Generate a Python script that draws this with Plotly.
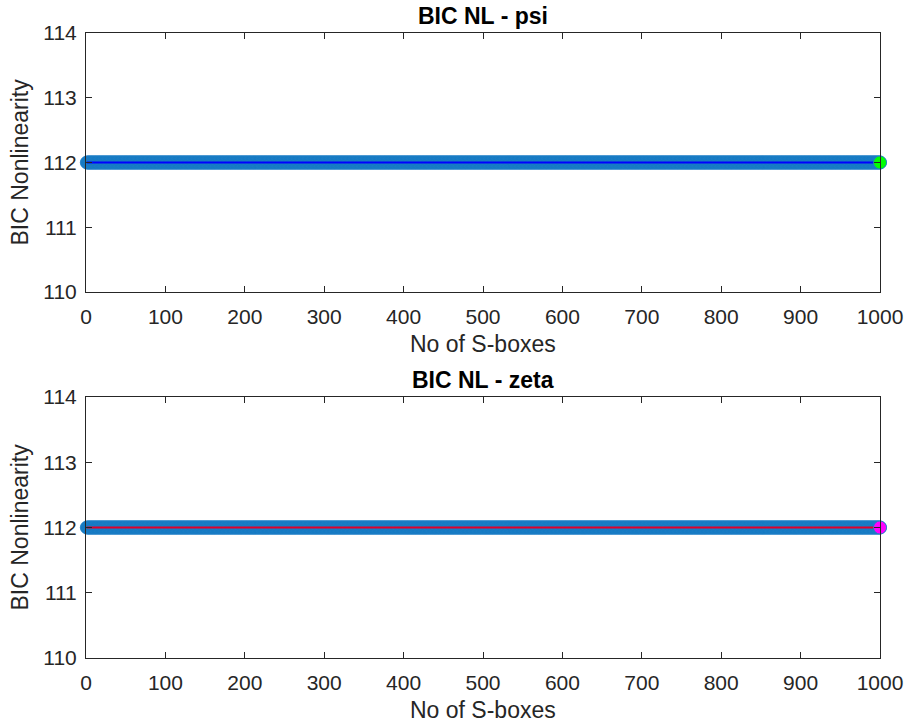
import plotly.graph_objects as go

# ---- data ----
sbox_index = list(range(1, 1001))
psi_nl = [112] * 1000
zeta_nl = [112] * 1000
x_ticks = [0, 100, 200, 300, 400, 500, 600, 700, 800, 900, 1000]
y_ticks = [110, 111, 112, 113, 114]
titles = ["BIC NL - psi", "BIC NL - zeta"]
x_label = "No of S-boxes"
y_label = "BIC Nonlinearity"

W, H = 920, 727
L, R = 86, 880
panels = [(33, 292), (397, 658)]  # pixel top/bottom of each plot area

FONT = "Liberation Sans, Arial, sans-serif"
AX = "#262626"

fig = go.Figure()

series = [
    (psi_nl, "#0000ff", "#00ff00"),
    (zeta_nl, "#e0002a", "#ff00ff"),
]

for i, (vals, line_col, end_col) in enumerate(series):
    xa = "x" if i == 0 else "x2"
    ya = "y" if i == 0 else "y2"
    fig.add_trace(go.Scatter(
        x=sbox_index, y=vals, mode="markers",
        marker=dict(size=13, color="#0072bd", line=dict(color="#1f7fc6", width=0.8)),
        xaxis=xa, yaxis=ya, showlegend=False, hoverinfo="skip", cliponaxis=False,
    ))
    fig.add_trace(go.Scatter(
        x=sbox_index, y=vals, mode="lines",
        line=dict(color=line_col, width=2),
        xaxis=xa, yaxis=ya, showlegend=False, hoverinfo="skip",
    ))
    fig.add_trace(go.Scatter(
        x=[sbox_index[-1]], y=[vals[-1]], mode="markers",
        marker=dict(size=13, color=end_col, line=dict(color="#1f7fc6", width=0.8)),
        xaxis=xa, yaxis=ya, showlegend=False, hoverinfo="skip", cliponaxis=False,
    ))

def ydom(top, bot):
    return [1 - bot / H, 1 - top / H]

axis_common = dict(
    showline=True, linecolor=AX, linewidth=1, mirror="ticks",
    ticks="inside", ticklen=6, tickcolor=AX, tickwidth=1,
    showgrid=False, zeroline=False,
    tickfont=dict(family=FONT, size=21, color=AX),
)

layout = dict(
    width=W, height=H,
    margin=dict(l=L, r=W - R, t=0, b=0, autoexpand=False),
    plot_bgcolor="white", paper_bgcolor="white",
    font=dict(family=FONT, color=AX),
)
for i, (top, bot) in enumerate(panels):
    sx = "" if i == 0 else "2"
    layout["xaxis" + sx] = dict(axis_common, range=[0, 1000], tickvals=x_ticks,
                                domain=[0, 1], anchor="y" + sx, ticklabelstandoff=6)
    layout["yaxis" + sx] = dict(axis_common, range=[110, 114], tickvals=y_ticks,
                                domain=ydom(top, bot), anchor="x" + sx, ticklabelstandoff=4)
fig.update_layout(**layout)

annotations = []
pw = R - L
for i, (top, bot) in enumerate(panels):
    annotations.append(dict(text="<b>%s</b>" % titles[i], xref="paper", yref="paper",
                            x=0.5, y=1 - (top - 17) / H, xanchor="center", yanchor="middle",
                            showarrow=False, font=dict(family=FONT, size=23, color="#000000")))
    annotations.append(dict(text=x_label, xref="paper", yref="paper",
                            x=0.5, y=1 - (bot + 52) / H, xanchor="center", yanchor="middle",
                            showarrow=False, font=dict(family=FONT, size=23, color=AX)))
    annotations.append(dict(text=y_label, xref="paper", yref="paper", textangle=-90,
                            x=(19 - L) / pw, y=1 - ((top + bot) / 2) / H,
                            xanchor="center", yanchor="middle",
                            showarrow=False, font=dict(family=FONT, size=23, color=AX)))
fig.update_layout(annotations=annotations)

fig.write_html("out.html", config={"displayModeBar": False},
               post_script="document.body.style.margin='0';document.body.style.overflow='hidden';")
